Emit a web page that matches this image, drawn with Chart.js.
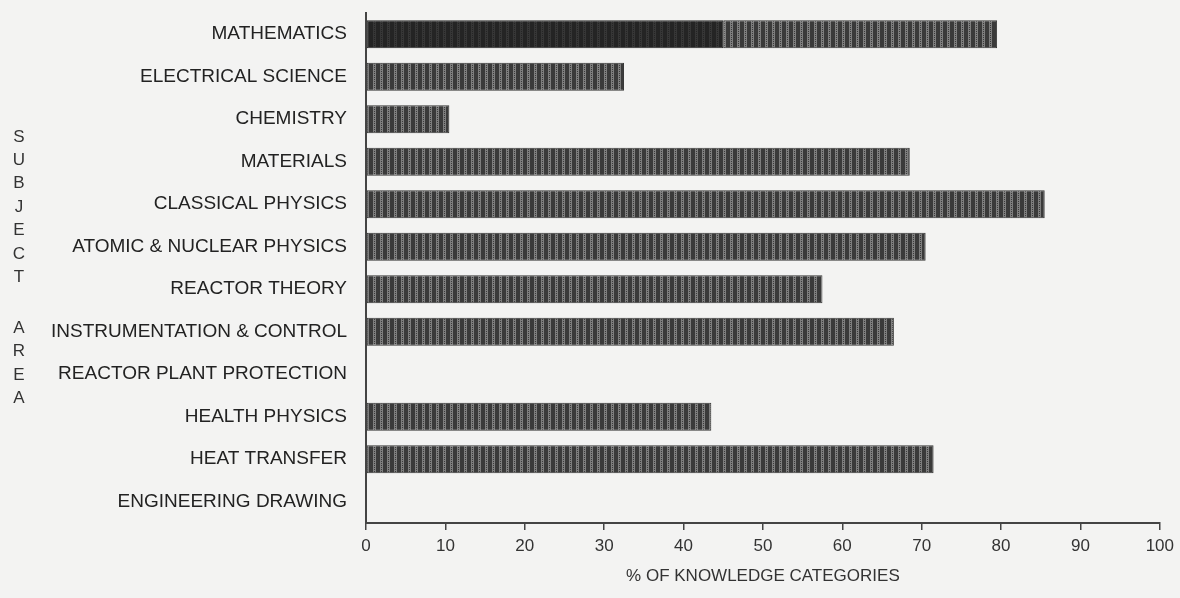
<!DOCTYPE html>
<html>
<head>
<meta charset="utf-8">
<script src="https://cdn.jsdelivr.net/npm/chart.js@4.4.1/dist/chart.umd.min.js"></script>
<style>
  html, body { margin: 0; padding: 0; background: #f3f3f2; }
  #wrap { position: relative; width: 1180px; height: 598px; }
</style>
</head>
<body>
<div id="wrap"><canvas id="chart" width="1180" height="598"></canvas></div>
<script>
// subject areas, top to bottom
const categories = [
  'MATHEMATICS',
  'ELECTRICAL SCIENCE',
  'CHEMISTRY',
  'MATERIALS',
  'CLASSICAL PHYSICS',
  'ATOMIC & NUCLEAR PHYSICS',
  'REACTOR THEORY',
  'INSTRUMENTATION & CONTROL',
  'REACTOR PLANT PROTECTION',
  'HEALTH PHYSICS',
  'HEAT TRANSFER',
  'ENGINEERING DRAWING'
];
// dark segment (only mathematics has one)
const darkValues = [45, 0, 0, 0, 0, 0, 0, 0, 0, 0, 0, 0];
// shaded segment
const shadedValues = [34.5, 32.5, 10.5, 68.5, 85.5, 70.5, 57.5, 66.5, 0, 43.5, 71.5, 0];
const xTicks = [0, 10, 20, 30, 40, 50, 60, 70, 80, 90, 100];
const yTitle = ['S', 'U', 'B', 'J', 'E', 'C', 'T', '', 'A', 'R', 'E', 'A'];
const xTitle = '% OF KNOWLEDGE CATEGORIES';

const FONT = '"Liberation Sans", Arial, sans-serif';

// screened fill like the printed bars
function makePattern(dark, light) {
  const c = document.createElement('canvas');
  c.width = 7;
  c.height = 4;
  const g = c.getContext('2d');
  g.fillStyle = dark;
  g.fillRect(0, 0, 7, 4);
  g.fillStyle = light;
  for (let y = 0; y < 4; y++) {
    g.fillRect(2, y, 1, 1);
    g.fillRect(4, y, 1, 1);
    if (y % 2 === 0) g.fillRect(3, y, 1, 1);
  }
  return g.createPattern(c, 'repeat');
}

const yTitlePlugin = {
  id: 'yTitle',
  afterDraw(chart) {
    const ctx = chart.ctx;
    ctx.save();
    ctx.fillStyle = '#333';
    ctx.font = '17px ' + FONT;
    ctx.textAlign = 'center';
    ctx.textBaseline = 'middle';
    let y = 137;
    yTitle.forEach(ch => {
      if (ch) ctx.fillText(ch, 19, y);
      y += ch ? 23.4 : 27.5;
    });
    ctx.restore();
  }
};

new Chart(document.getElementById('chart'), {
  type: 'bar',
  data: {
    labels: categories,
    datasets: [
      {
        data: darkValues,
        backgroundColor: makePattern('#242424', '#363636'),
        borderColor: '#262626',
        borderWidth: 1,
        borderSkipped: false,
        barPercentage: 0.66,
        categoryPercentage: 1
      },
      {
        data: shadedValues,
        backgroundColor: makePattern('#3a3a3a', '#7e7e7e'),
        borderColor: '#363636',
        borderWidth: 1,
        borderSkipped: false,
        barPercentage: 0.66,
        categoryPercentage: 1
      }
    ]
  },
  options: {
    indexAxis: 'y',
    responsive: false,
    animation: false,
    layout: { padding: { top: 13, right: 20, bottom: 0, left: 0 } },
    plugins: {
      legend: { display: false },
      tooltip: { enabled: false }
    },
    scales: {
      x: {
        stacked: true,
        min: 0,
        max: 100,
        afterBuildTicks: (scale) => { scale.ticks = xTicks.map(v => ({ value: v })); },
        afterFit: (scale) => { scale.height = 75; },
        ticks: { color: '#333', font: { family: FONT, size: 17 }, padding: 6 },
        grid: { drawOnChartArea: false, drawTicks: true, tickLength: 7, color: '#444', lineWidth: 1.5 },
        border: { display: true, color: '#444', width: 2 },
        title: {
          display: true,
          text: xTitle,
          color: '#333',
          font: { family: FONT, size: 17 },
          padding: { top: 0, bottom: 11 }
        }
      },
      y: {
        stacked: true,
        afterFit: (scale) => {
          scale.width = 366;
          scale.paddingTop = 0;
          scale.paddingBottom = 0;
        },
        ticks: { color: '#222', font: { family: FONT, size: 19 }, padding: 19 },
        grid: { display: false, drawTicks: false },
        border: { display: true, color: '#444', width: 2 }
      }
    }
  },
  plugins: [yTitlePlugin]
});
</script>
</body>
</html>
